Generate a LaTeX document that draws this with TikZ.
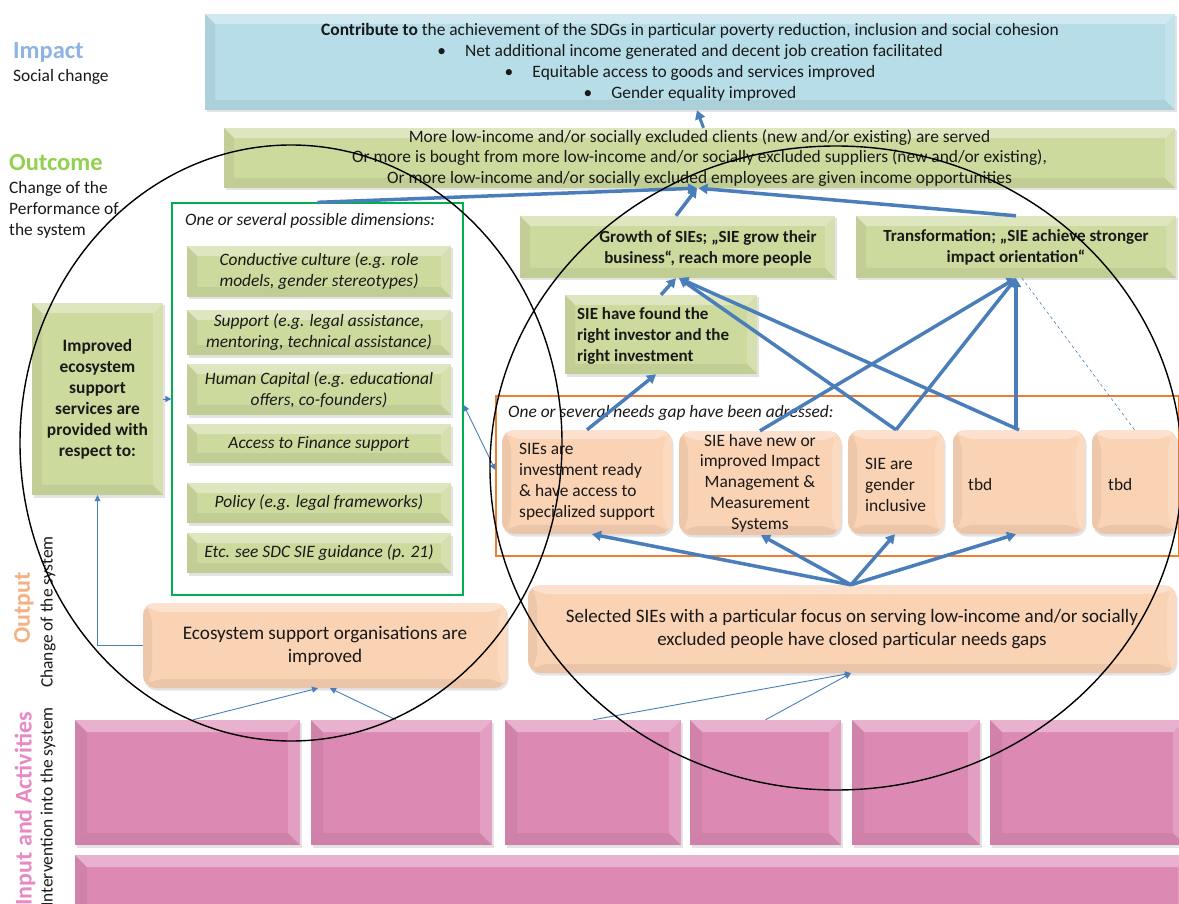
\documentclass[tikz,border=0pt]{standalone}
\usepackage{fontspec}
\setmainfont{Carlito}
\usetikzlibrary{arrows.meta,shadows,calc}
\definecolor{impblue}{RGB}{183,221,232}
\definecolor{olgreen}{RGB}{205,218,158}
\definecolor{peach}{RGB}{250,210,180}
\definecolor{pinkbox}{RGB}{220,138,180}
\definecolor{arrblue}{RGB}{74,126,187}
\definecolor{lblblue}{RGB}{141,180,226}
\definecolor{lblgreen}{RGB}{146,208,80}
\definecolor{lblorange}{RGB}{244,177,131}
\definecolor{lblpink}{RGB}{232,137,196}
\definecolor{frgreen}{RGB}{0,176,80}
\definecolor{frorange}{RGB}{237,125,49}
\definecolor{txtc}{RGB}{25,25,25}
\begin{document}
\begin{tikzpicture}[x=1pt,y=-1pt,
  bev/.style={path picture={
    \fill[white,opacity=.35] (path picture bounding box.north west) -- (path picture bounding box.north east) -- ([shift={(-#1,-#1)}]path picture bounding box.north east) -- ([shift={(#1,-#1)}]path picture bounding box.north west) -- cycle;
    \fill[black,opacity=.06] (path picture bounding box.south west) -- (path picture bounding box.south east) -- ([shift={(-#1,#1)}]path picture bounding box.south east) -- ([shift={(#1,#1)}]path picture bounding box.south west) -- cycle;
    \fill[black,opacity=.05] (path picture bounding box.north west) -- (path picture bounding box.south west) -- ([shift={(#1,#1)}]path picture bounding box.south west) -- ([shift={(#1,-#1)}]path picture bounding box.north west) -- cycle;
    \fill[white,opacity=.18] (path picture bounding box.north east) -- (path picture bounding box.south east) -- ([shift={(-#1,#1)}]path picture bounding box.south east) -- ([shift={(-#1,-#1)}]path picture bounding box.north east) -- cycle;
  }},
  sh/.style={drop shadow={opacity=0.22,shadow xshift=1.5pt,shadow yshift=-2.5pt}},
  gbox/.style={rectangle,fill=olgreen,bev=10pt,sh,inner sep=0pt,text=txtc},
  bbox/.style={rectangle,fill=impblue,bev=10pt,sh,inner sep=0pt,text=txtc},
  pbox/.style={rectangle,rounded corners=12pt,fill=peach,bev=9pt,sh,inner sep=0pt,text=txtc},
  kbox/.style={rectangle,fill=pinkbox,bev=12pt,sh,inner sep=0pt},
  txt/.style={inner sep=0pt,text=txtc,font=\fontsize{17.4}{21}\selectfont},
  bigarr/.style={draw=arrblue,line width=3.5pt,-{Triangle[length=9pt,width=10pt]}},
  thinarr/.style={draw=arrblue,line width=0.9pt,-{Triangle[length=6pt,width=6pt]}},
  circ/.style={draw=black,line width=1.4pt}
]
\useasboundingbox (0,0) rectangle (1179,904);
\fill[white] (0,0) rectangle (1179,904);
\clip (0,0) rectangle (1179,904);

% left labels
\node[anchor=west,inner sep=0pt,text=lblblue,font=\bfseries\fontsize{24.5}{28}\selectfont] (limp) at (13,52) {Impact};
\node[anchor=west,txt] (lsoc) at (13,77) {Social change};
\node[anchor=west,inner sep=0pt,text=lblgreen,font=\bfseries\fontsize{24.5}{28}\selectfont] (lout) at (9,163) {Outcome};
\node[anchor=west,txt,align=left] (lchg) at (9,210) {Change of the\\Performance of\\the system};
\node[rotate=90,anchor=center,inner sep=0pt,text=lblorange,font=\bfseries\fontsize{24}{28}\selectfont] (loutp) at (24,608) {Output};
\node[rotate=90,anchor=west,txt] (lchs) at (48,688) {Change of the system};
\node[rotate=90,anchor=east,inner sep=0pt,text=lblpink,font=\bfseries\fontsize{24}{28}\selectfont] (linp) at (25,712) {Input and Activities};
\node[rotate=90,anchor=east,txt] (lint) at (48,707) {Intervention into the system};

% impact and outcome
\node[bbox,minimum width=970,minimum height=96,align=center,font=\fontsize{17.4}{21}\selectfont] (imp) at (690,62)
 {\textbf{Contribute to} the achievement of the SDGs in particular poverty reduction, inclusion and social cohesion\\
 \textbullet\hspace{1.1em}Net additional income generated and decent job creation facilitated\\
 \textbullet\hspace{1.1em}Equitable access to goods and services improved\\
 \textbullet\hspace{1.1em}Gender equality improved};
\node[gbox,minimum width=951,minimum height=60,align=center,font=\fontsize{17.4}{20.5}\selectfont] (out) at (699.5,158)
 {More low-income and/or socially excluded clients (new and/or existing) are served\\
 Or more is bought from more low-income and/or socially excluded suppliers (new and/or existing),\\
 Or more low-income and/or socially excluded employees are given income opportunities};

% left part
\node[gbox,minimum width=131,minimum height=192,align=center,font=\bfseries\fontsize{17.4}{21}\selectfont] (impr) at (97.5,399)
 {Improved\\ecosystem\\support\\services are\\provided with\\respect to:};
\node[draw=frgreen,line width=1.3pt,minimum width=291,minimum height=392,inner sep=0pt] (dims) at (317.5,399) {};
\node[anchor=west,txt,font=\itshape\fontsize{17.4}{21}\selectfont] (dimt) at (185,221) {One or several possible dimensions:};
\tikzset{dbox/.style={gbox,minimum width=264,align=center,font=\itshape\fontsize{17.4}{21}\selectfont}}
\node[dbox,minimum height=51] (d1) at (319,271.5) {Conductive culture (e.g. role\\models, gender stereotypes)};
\node[dbox,minimum height=45] (d2) at (319,332.5) {Support (e.g. legal assistance,\\mentoring, technical assistance)};
\node[dbox,minimum height=51] (d3) at (319,389.5) {Human Capital (e.g. educational\\offers, co-founders)};
\node[dbox,minimum height=39] (d4) at (319,443.5) {Access to Finance support};
\node[dbox,minimum height=40] (d5) at (319,503) {Policy (e.g. legal frameworks)};
\node[dbox,minimum height=40] (d6) at (319,553) {Etc. see SDC SIE guidance (p. 21)};

% right part
\node[gbox,minimum width=315,minimum height=62] (grow) at (677.5,247) {};
\node[txt,align=center,font=\bfseries\fontsize{17}{21}\selectfont] (growt) at (708,248) {Growth of SIEs; „SIE grow their\\business“, reach more people};
\node[gbox,minimum width=320,minimum height=62,align=center,font=\bfseries\fontsize{17}{21}\selectfont] (trans) at (1016,247) {Transformation; „SIE achieve stronger\\impact orientation“};
\node[gbox,minimum width=192,minimum height=79] (found) at (661,334.5) {};
\node[txt,anchor=west,align=left,font=\bfseries\fontsize{17}{21}\selectfont] (foundt) at (577,336) {SIE have found the\\right investor and the\\right investment};

\node[draw=frorange,line width=1.3pt,minimum width=683,minimum height=160,inner sep=0pt] (gaps) at (837.5,476) {};
\node[anchor=west,txt,font=\itshape\fontsize{17.4}{21}\selectfont] (gapt) at (508,413) {One or several needs gap have been adressed:};
\node[pbox,minimum width=170,minimum height=104] (p1) at (587,482) {};
\node[txt,anchor=west,align=left] (p1t) at (519,482) {SIEs are\\investment ready\\\&\ have access to\\specialized support};
\node[pbox,minimum width=162,minimum height=104,align=center,font=\fontsize{17.4}{20.8}\selectfont] (p2) at (760,483) {SIE have new or\\improved Impact\\Management \&\\Measurement\\Systems};
\node[pbox,minimum width=96,minimum height=104] (p3) at (896,482) {};
\node[txt,anchor=west,align=left] (p3t) at (865,485) {SIE are\\gender\\inclusive};
\node[pbox,minimum width=132,minimum height=104] (p4) at (1019,482) {};
\node[txt,anchor=west] (p4t) at (968,485) {tbd};
\node[pbox,minimum width=85,minimum height=104] (p5) at (1134.5,482) {};
\node[txt,anchor=west] (p5t) at (1108,485) {tbd};

% outputs
\node[pbox,minimum width=364,minimum height=85,align=center,font=\fontsize{19.2}{23}\selectfont] (eco) at (325,645.5) {Ecosystem support organisations are\\improved};
\node[pbox,minimum width=648,minimum height=88,align=center,font=\fontsize{19}{23}\selectfont] (sel) at (852,629) {Selected SIEs with a particular focus on serving low-income and/or socially\\excluded people have closed particular needs gaps};

% pink activities
\node[kbox,minimum width=225,minimum height=125] (k1) at (187.5,782.5) {};
\node[kbox,minimum width=181,minimum height=125] (k2) at (401.5,782.5) {};
\node[kbox,minimum width=176,minimum height=125] (k3) at (593,782.5) {};
\node[kbox,minimum width=151,minimum height=125] (k4) at (765.5,782.5) {};
\node[kbox,minimum width=128,minimum height=125] (k5) at (916,782.5) {};
\node[kbox,minimum width=195,minimum height=125] (k6) at (1087.5,782.5) {};
\node[kbox,minimum width=1115,minimum height=70] (k7) at (632.5,890) {};

% connectors
\draw[bigarr,line width=3pt] ([xshift=4pt]out.north) -- ([xshift=7pt]imp.south);
\draw[bigarr] (dims.north) -- ([xshift=-2.5pt]out.south);
\draw[bigarr] ([xshift=-1.5pt]grow.north) -- ([xshift=-2.5pt]out.south);
\draw[bigarr] (trans.north) -- ([xshift=-1pt]out.south);
\draw[bigarr] (found.north) -- ([xshift=-1.5pt]grow.south);
\draw[bigarr] (p1.north) -- ([xshift=-5pt]found.south);
\draw[bigarr] (p3.north) -- ([xshift=1.5pt]grow.south);
\draw[bigarr] (p4.north) -- ([xshift=1.5pt]grow.south);
\draw[bigarr] (p2.north) -- (trans.south);
\draw[bigarr] (p3.north) -- (trans.south);
\draw[bigarr] ([xshift=-3pt]p4.north) -- (trans.south);
\draw[draw=arrblue,line width=0.6pt,dashed] (p5.north) -- ([xshift=6pt]trans.south);
\draw[bigarr] ([xshift=-1pt]sel.north) -- ([xshift=5pt]p1.south);
\draw[bigarr] ([xshift=-1pt]sel.north) -- ([xshift=1pt]p2.south);
\draw[bigarr] ([xshift=-1pt]sel.north) -- ([xshift=-1pt]p3.south);
\draw[bigarr] ([xshift=-1pt]sel.north) -- ([xshift=-3pt]p4.south);
\draw[thinarr] ([xshift=5.5pt]k1.north) -- ([xshift=-7pt]eco.south);
\draw[thinarr] ([xshift=-5.5pt]k2.north) -- ([xshift=5pt]eco.south);
\draw[thinarr] (k3.north) -- ([xshift=-1pt]sel.south);
\draw[thinarr] (k4.north) -- ([xshift=-1pt]sel.south);
\draw[thinarr] (eco.west) -| (impr.south);
\draw[thinarr] (impr.east) -- (dims.west);
\draw[thinarr,{Triangle[length=6pt,width=6pt]}-{Triangle[length=6pt,width=6pt]}] ([yshift=-6pt]dims.east) -- ([yshift=6pt]gaps.west);

% circles
\draw[circ] (291,443) ellipse [x radius=271pt,y radius=298pt];
\draw[circ] (836,468) ellipse [x radius=346pt,y radius=322pt];
\end{tikzpicture}
\end{document}
